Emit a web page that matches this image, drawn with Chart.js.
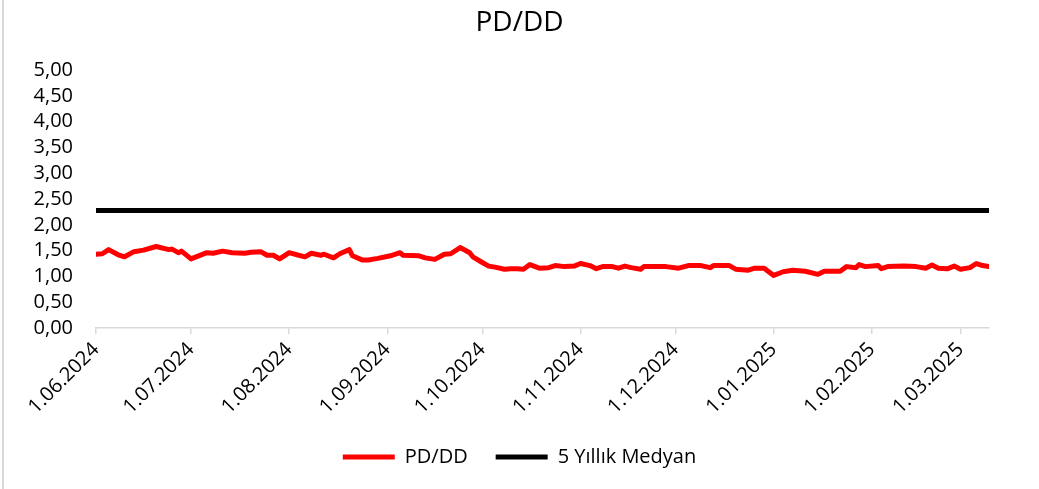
<!DOCTYPE html>
<html>
<head>
<meta charset="utf-8">
<title>PD/DD</title>
<script src="https://cdn.jsdelivr.net/npm/chart.js@4.4.1/dist/chart.umd.min.js"></script>
<style>
  html, body { margin: 0; padding: 0; background: #fff; }
  #wrap { position: relative; width: 1039px; height: 489px; }
  #edge { position: absolute; left: 2px; top: 0; width: 2px; height: 489px; background: #d9d9d9; }
  canvas { position: absolute; left: 0; top: 0; }
</style>
</head>
<body>
<div id="wrap">
  <div id="edge"></div>
  <canvas id="myChart" width="1039" height="489"></canvas>
</div>
<script>
// data
var dates = [
  '2024-06-01','2024-06-03','2024-06-05','2024-06-08','2024-06-10','2024-06-13','2024-06-16','2024-06-20',
  '2024-06-24','2024-06-25','2024-06-27','2024-06-28','2024-07-01','2024-07-06','2024-07-08','2024-07-11',
  '2024-07-14','2024-07-18','2024-07-20','2024-07-23','2024-07-25','2024-07-27','2024-07-29','2024-08-01',
  '2024-08-04','2024-08-06','2024-08-08','2024-08-11','2024-08-12','2024-08-15','2024-08-17','2024-08-20',
  '2024-08-21','2024-08-24','2024-08-26','2024-08-29','2024-09-02','2024-09-05','2024-09-06','2024-09-11',
  '2024-09-13','2024-09-16','2024-09-19','2024-09-21','2024-09-24','2024-09-27','2024-09-28','2024-10-01',
  '2024-10-03','2024-10-05','2024-10-08','2024-10-10','2024-10-12','2024-10-14','2024-10-16','2024-10-19',
  '2024-10-22','2024-10-24','2024-10-27','2024-10-30','2024-11-01','2024-11-04','2024-11-06','2024-11-08',
  '2024-11-11','2024-11-13','2024-11-15','2024-11-17','2024-11-20','2024-11-21','2024-11-28','2024-12-02',
  '2024-12-05','2024-12-09','2024-12-12','2024-12-13','2024-12-18','2024-12-20','2024-12-24','2024-12-26',
  '2024-12-29','2025-01-01','2025-01-04','2025-01-07','2025-01-11','2025-01-15','2025-01-17','2025-01-22',
  '2025-01-24','2025-01-27','2025-01-28','2025-01-30','2025-02-03','2025-02-04','2025-02-06','2025-02-11',
  '2025-02-15','2025-02-18','2025-02-20','2025-02-22','2025-02-25','2025-02-27','2025-03-01','2025-03-04',
  '2025-03-06','2025-03-08','2025-03-10'
];
var pdddValues = [
  1.43,1.44,1.52,1.42,1.38,1.48,1.51,1.58,
  1.52,1.53,1.46,1.49,1.34,1.46,1.45,1.49,
  1.46,1.45,1.47,1.48,1.41,1.41,1.34,1.46,
  1.41,1.38,1.45,1.41,1.43,1.36,1.44,1.52,
  1.40,1.32,1.32,1.35,1.40,1.46,1.41,1.40,
  1.36,1.33,1.43,1.44,1.56,1.46,1.38,1.27,
  1.20,1.18,1.14,1.15,1.15,1.14,1.23,1.16,
  1.17,1.21,1.19,1.20,1.25,1.21,1.15,1.19,
  1.19,1.16,1.20,1.17,1.14,1.19,1.19,1.16,
  1.21,1.21,1.17,1.21,1.21,1.14,1.12,1.16,
  1.16,1.02,1.09,1.12,1.10,1.04,1.10,1.10,
  1.19,1.17,1.23,1.19,1.21,1.15,1.19,1.20,
  1.19,1.16,1.22,1.16,1.15,1.20,1.14,1.17,
  1.25,1.21,1.19
];
var medianValue = 2.28;
var tickDates = ['2024-06-01','2024-07-01','2024-08-01','2024-09-01','2024-10-01','2024-11-01','2024-12-01','2025-01-01','2025-02-01','2025-03-01'];
var tickLabels = ['1.06.2024','1.07.2024','1.08.2024','1.09.2024','1.10.2024','1.11.2024','1.12.2024','1.01.2025','1.02.2025','1.03.2025'];
var seriesNames = ['PD/DD', '5 Yıllık Medyan'];

function dayNum(s) {
  var p = s.split('-');
  return (Date.UTC(+p[0], +p[1] - 1, +p[2]) - Date.UTC(2024, 5, 1)) / 86400000;
}

var pdddPoints = dates.map(function (d, i) { return { x: dayNum(d), y: pdddValues[i] }; });
var firstDay = dayNum(dates[0]);
var lastDay = dayNum(dates[dates.length - 1]);
var medianPoints = [{ x: firstDay, y: medianValue }, { x: lastDay, y: medianValue }];
var tickDays = tickDates.map(dayNum);

Chart.defaults.font.family = "'Open Sans', sans-serif";
Chart.defaults.color = '#000';

var ctx = document.getElementById('myChart').getContext('2d');
var chart = new Chart(ctx, {
  type: 'line',
  data: {
    datasets: [
      {
        label: seriesNames[0],
        data: pdddPoints,
        borderColor: '#ff0000',
        backgroundColor: '#ff0000',
        borderWidth: 5,
        pointRadius: 0,
        tension: 0,
        borderJoinStyle: 'round',
        borderCapStyle: 'round'
      },
      {
        label: seriesNames[1],
        data: medianPoints,
        borderColor: '#000000',
        backgroundColor: '#000000',
        borderWidth: 5,
        pointRadius: 0,
        borderCapStyle: 'round'
      }
    ]
  },
  options: {
    responsive: false,
    animation: false,
    layout: { padding: { left: 0, right: 0, top: 0, bottom: 12 } },
    plugins: {
      title: {
        display: true,
        text: 'PD/DD',
        font: { size: 28, weight: 'normal' },
        color: '#000',
        padding: { top: 6.5, bottom: 30 }
      },
      legend: {
        position: 'bottom',
        labels: {
          boxWidth: 52,
          boxHeight: 5,
          padding: 28,
          font: { size: 20 },
          color: '#000',
          generateLabels: function (c) {
            var items = Chart.defaults.plugins.legend.labels.generateLabels(c);
            items.forEach(function (it) { it.lineWidth = 0; it.fillStyle = it.strokeStyle; });
            return items;
          }
        }
      },
      tooltip: { enabled: false }
    },
    scales: {
      x: {
        type: 'linear',
        min: firstDay,
        max: lastDay,
        afterFit: function (scale) { scale.height -= 4; },
        afterBuildTicks: function (scale) {
          scale.ticks = tickDays.map(function (v) { return { value: v }; });
        },
        ticks: {
          autoSkip: false,
          minRotation: 45,
          maxRotation: 45,
          padding: 4,
          font: { size: 20 },
          color: '#000',
          callback: function (value) {
            var i = tickDays.indexOf(value);
            return i >= 0 ? tickLabels[i] : '';
          }
        },
        grid: { drawOnChartArea: false, drawTicks: true, tickLength: 6, color: '#d9d9d9', lineWidth: 1.5 },
        border: { display: true, color: '#d9d9d9', width: 1.5 }
      },
      y: {
        min: 0,
        max: 5,
        afterFit: function (scale) { scale.width = 96; },
        ticks: {
          stepSize: 0.5,
          autoSkip: false,
          padding: 23,
          font: { size: 20 },
          color: '#000',
          callback: function (v) { return v.toFixed(2).replace('.', ','); }
        },
        grid: { display: false, drawTicks: false },
        border: { display: false }
      },
      yRight: {
        position: 'right',
        display: true,
        afterFit: function (scale) { scale.width = 50; },
        ticks: { display: false },
        grid: { display: false, drawTicks: false },
        border: { display: false }
      }
    }
  }
});
</script>
</body>
</html>
